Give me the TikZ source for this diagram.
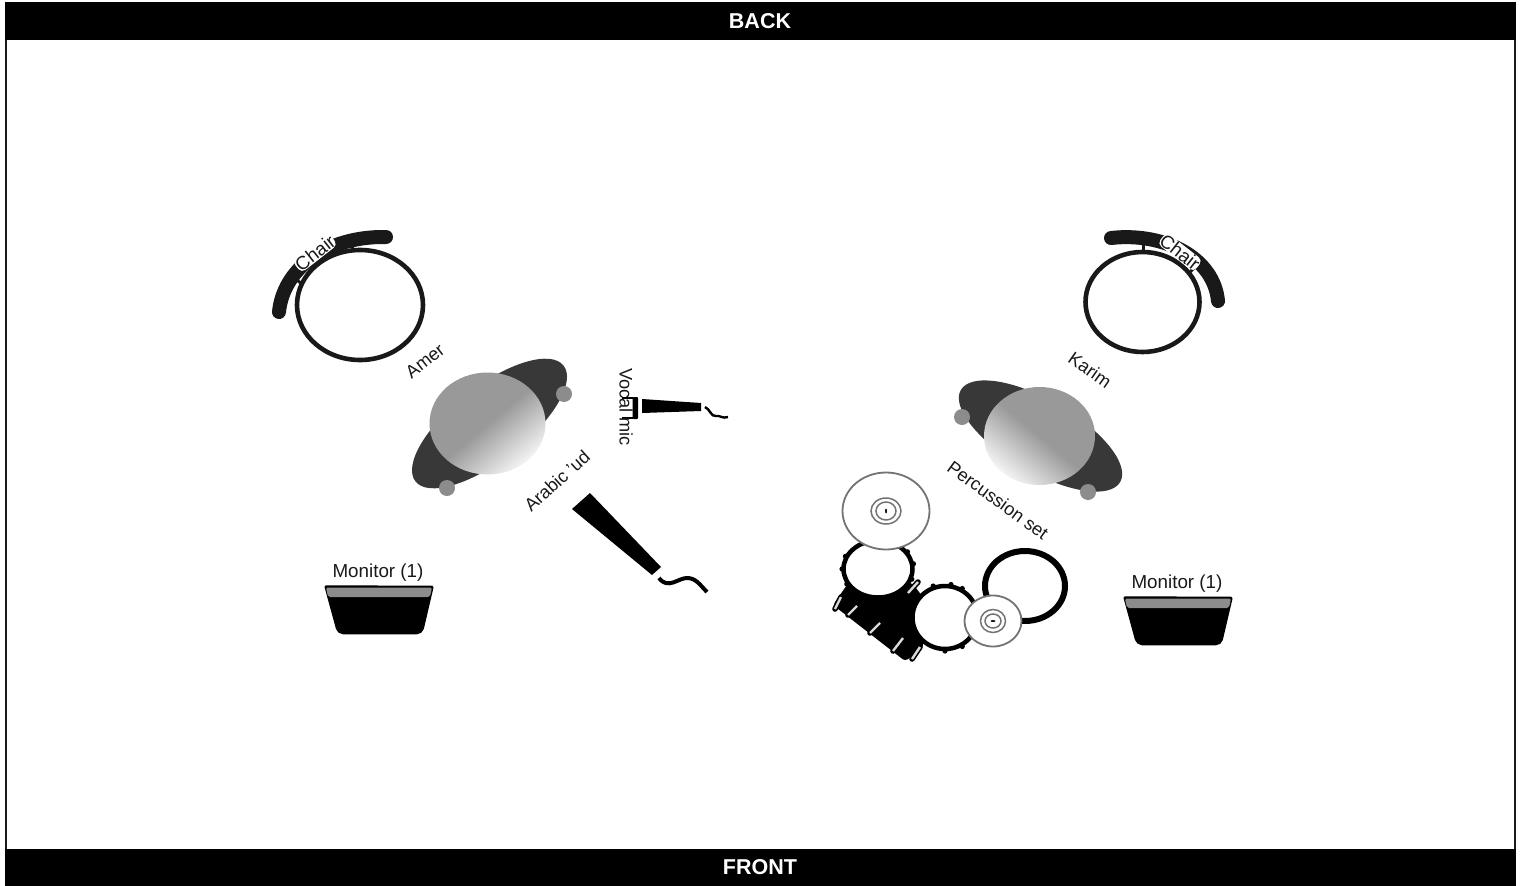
\documentclass[tikz,border=0pt]{standalone}
\usepackage{fontspec}
\setmainfont{Liberation Sans}
\usetikzlibrary{calc}
\definecolor{ink}{gray}{0.1}
\definecolor{shoulder}{gray}{0.22}
\definecolor{hand}{gray}{0.55}
\definecolor{head}{gray}{0.6}
\definecolor{cymline}{gray}{0.45}
\pgfdeclareverticalshading{headshade}{100bp}{color(0bp)=(white); color(22bp)=(white); color(50bp)=(head); color(100bp)=(head)}
\tikzset{
  bar/.style={fill=black,draw=none},
  barlabel/.style={text=white,font=\bfseries\fontsize{21.5}{23}\selectfont,inner sep=0pt},
  lbl/.style={text=ink,font=\fontsize{18.8}{20}\selectfont,inner sep=0pt},
  lblrot/.style={text=ink,font=\fontsize{18.2}{20}\selectfont,inner sep=0pt},
  chairlbl/.style={text=ink,font=\fontsize{18.8}{20}\selectfont,inner sep=0.5pt,fill=white,rounded corners=5pt},
  seat/.style={draw=ink,line width=4.6pt,fill=white},
  backrest/.style={draw=ink,line width=14pt,line cap=round},
  tick/.style={draw=ink,line width=3pt},
  shoulders/.style={fill=shoulder,draw=none},
  handdot/.style={fill=hand,draw=none},
  headball/.style={shading=headshade,draw=none},
  micbody/.style={fill=black,draw=none},
  cable/.style={draw=black,line width=4pt,line cap=butt},
  cabsmall/.style={draw=black,line width=2.4pt},
  mon/.style={fill=black,draw=black,line width=1.5pt,line join=round},
  monstrip/.style={fill=hand,draw=none,rounded corners=2pt},
  drum/.style={draw=black,line width=4.5pt,fill=white},
  cym/.style={draw=cymline,line width=1.8pt,fill=white},
  cymring/.style={draw=cymline,line width=1.5pt},
  lugout/.style={draw=black,line width=5.6pt,line cap=round},
  lugin/.style={draw=white!85!black,line width=2.4pt},
}
\newcommand{\monitorat}[2]{%
  \begin{scope}[shift={(#1,#2)}]
    \path[mon] (0,0) [rounded corners=1pt] -- (108,0.5) [rounded corners=5pt] -- (97,47.5) -- (13,47.5) [rounded corners=1pt] -- cycle;
    \path[monstrip] (1,1.5) -- (107,1.5) -- (105,11) -- (3,11) -- cycle;
  \end{scope}}
\newcommand{\lug}[4]{\draw[lugout] (#1,#2) -- (#3,#4); \draw[lugin] (#1,#2) -- (#3,#4);}
\begin{document}
\begin{tikzpicture}[x=1pt,y=-1pt]
\useasboundingbox (0,0) rectangle (1524,886);
% frame
\draw[ink,line width=2pt] (6,20) -- (6,860);
\draw[ink,line width=2pt] (1514.5,20) -- (1514.5,860);
\fill[bar] (5,2) rectangle (1516,40);
\fill[bar] (5,849) rectangle (1516,886);
\node[barlabel] (back) at (760,21.5) {BACK};
\node[barlabel] (front) at (760,867.5) {FRONT};

% left chair
\draw[backrest] (279,312) .. controls (283,270) and (325,236) .. (386,237);
\draw[tick] (352,238) -- (352,251);
\draw[tick] (296,279) -- (304,286);
\draw[seat] (360,305) ellipse [x radius=63,y radius=55];
\node[chairlbl,rotate=38] (chairL) at (315,253) {Chair};

% right chair
\draw[backrest] (1111,238) .. controls (1165,232) and (1214,258) .. (1218,301);
\draw[tick] (1143,241) -- (1143,253);
\draw[tick] (1198,264) -- (1190,272);
\draw[seat] (1142.5,302) ellipse [x radius=57,y radius=50];
\node[chairlbl,rotate=-38] (chairR) at (1180,252) {Chair};

% Amer
\node[lblrot,rotate=38] (amer) at (425,361) {Amer};
\fill[shoulders,rotate around={38:(489.5,423.5)}] (489.5,423.5) ellipse [x radius=94,y radius=37];
\fill[handdot] (564,394) circle (8);
\fill[handdot] (447,488) circle (8);
\path[headball,shading angle=40] (487.5,423.5) ellipse [x radius=58,y radius=51];

% Karim
\node[lblrot,rotate=-35] (karim) at (1090,370) {Karim};
\fill[shoulders,rotate around={-30:(1040.5,436)}] (1040.5,436) ellipse [x radius=92,y radius=36];
\fill[handdot] (962,417) circle (8);
\fill[handdot] (1088,492) circle (8);
\path[headball,shading angle=-40] (1039.5,436) ellipse [x radius=55.5,y radius=49];

% vocal mic
\fill[micbody,rounded corners=1pt] (632.5,397) rectangle (638,419);
\draw[black,line width=1.4pt,rounded corners=2pt] (632.5,398) -- (622,398);
\draw[black,line width=1.4pt,rounded corners=2pt] (632.5,418) -- (622,418);
\fill[micbody] (642,399) -- (701,403) -- (701,411) -- (642,413) -- cycle;
\draw[cabsmall] (705,407) .. controls (710,409) and (711,417) .. (716,416) .. controls (720,415) and (722,419) .. (728,417);
\node[lblrot,rotate=-90] (vocal) at (626,407) {Vocal mic};

% arabic ud mic
\node[lblrot,rotate=42] (ud) at (557,481) {Arabic 'ud};
\fill[micbody] (590,493) -- (572,509) -- (652,575) -- (661,567) -- cycle;
\draw[cable] (659,578) .. controls (668,590) and (678,578) .. (687,578) .. controls (696,578) and (700,585) .. (707,592);

% monitors
\node[lbl] (monL) at (378,572.5) {Monitor (1)};
\monitorat{325}{586}
\node[lbl] (monR) at (1177,583.5) {Monitor (1)};
\monitorat{1124}{597}

% percussion
\node[lblrot,rotate=-36] at (998,500) (perc) {Percussion set};
\draw[drum,line width=6pt] (1025,586) ellipse [x radius=40,y radius=35];
\fill[black,rounded corners=3pt] (849,582) -- (833,605) -- (905,661) -- (922,650) -- (930,606) -- (912,583) -- cycle;
\lug{835}{609}{841}{597}
\lug{848}{615}{857}{606}
\lug{870}{633}{880}{623}
\lug{893}{651}{903}{638}
\lug{912}{659}{920}{647}
\lug{908}{593}{918}{582}
\foreach \a in {110,150,180,205,20,-10,-35} \fill[black] ($(878,569)+(\a:36 and 30)$) circle (2.6);
\foreach \a in {90,60,250,280,300,180} \fill[black] ($(945,617.5)+(\a:34.5 and 33.5)$) circle (2.6);
\draw[drum] (878,569) ellipse [x radius=34.5,y radius=28.5];
\draw[drum] (945,617.5) ellipse [x radius=32.5,y radius=31.5];
\draw[cym] (886,511) ellipse [x radius=43.5,y radius=38.5];
\draw[cymring] (886,511) ellipse [x radius=15,y radius=13];
\draw[cymring] (886,511) ellipse [x radius=10,y radius=9];
\fill[ink] (886,511) ellipse [x radius=1,y radius=2.5];
\draw[cym] (993,621) ellipse [x radius=28.5,y radius=25.5];
\draw[cymring] (993,621) ellipse [x radius=12.5,y radius=11.5];
\draw[cymring] (993,621) ellipse [x radius=8,y radius=7];
\fill[ink] (993,621) ellipse [x radius=2.5,y radius=1];
\end{tikzpicture}
\end{document}
